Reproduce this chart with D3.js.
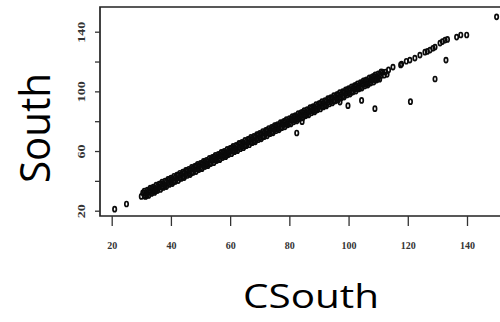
<!DOCTYPE html>
<html>
<head>
<meta charset="utf-8">
<script src="https://cdn.jsdelivr.net/npm/d3@7"></script>
<style>
  html, body { margin: 0; padding: 0; background: #fff; }
  svg { display: block; }
</style>
</head>
<body>
<svg id="chart" width="500" height="322"></svg>
<script>
// ---- data ----
const cSouth = [
  21, 25,
  30.0, 30.5, 31.0, 31.5, 32.0, 32.5, 33.0, 33.5, 34.0, 34.5,
  35.0, 35.5, 36.0, 36.5, 37.0, 37.5, 38.0, 38.5, 39.0, 39.5,
  40.0, 40.5, 41.0, 41.5, 42.0, 42.5, 43.0, 43.5, 44.0, 44.5,
  45.0, 45.5, 46.0, 46.5, 47.0, 47.5, 48.0, 48.5, 49.0, 49.5,
  50.0, 50.5, 51.0, 51.5, 52.0, 52.5, 53.0, 53.5, 54.0, 54.5,
  55.0, 55.5, 56.0, 56.5, 57.0, 57.5, 58.0, 58.5, 59.0, 59.5,
  60.0, 60.5, 61.0, 61.5, 62.0, 62.5, 63.0, 63.5, 64.0, 64.5,
  65.0, 65.5, 66.0, 66.5, 67.0, 67.5, 68.0, 68.5, 69.0, 69.5,
  70.0, 70.5, 71.0, 71.5, 72.0, 72.5, 73.0, 73.5, 74.0, 74.5,
  75.0, 75.5, 76.0, 76.5, 77.0, 77.5, 78.0, 78.5, 79.0, 79.5,
  80.0, 80.5, 81.0, 81.5, 82.0, 82.5, 83.0, 83.5, 84.0, 84.5,
  85.0, 85.5, 86.0, 86.5, 87.0, 87.5, 88.0, 88.5, 89.0, 89.5,
  90.0, 90.5, 91.0, 91.5, 92.0, 92.5, 93.0, 93.5, 94.0, 94.5,
  95.0, 95.5, 96.0, 96.5, 97.0, 97.5, 98.0, 98.5, 99.0, 99.5,
  100.0, 100.5, 101.0, 101.5, 102.0, 102.5, 103.0, 103.5, 104.0, 104.5,
  105.0, 105.5, 106.0, 106.5, 107.0, 107.5, 108.0, 108.5, 109.0, 109.5,
  110.0, 110.5, 111.0, 111.5, 112.0, 112.5, 113.0, 113.5,
  115.0, 117.6, 117.9, 119.5, 120.7, 122.4, 124.1, 125.8, 126.6, 127.5,
  128.5, 129.2, 130.9, 131.7, 132.6, 133.4, 136.5, 137.9, 139.9, 150.0,
  82.5, 84.3, 97.1, 99.8, 104.4, 108.9, 120.9, 129.2, 132.9
];
const south = [
  21, 24.5,
  29.6, 32.0, 29.8, 31.9, 30.4, 33.4, 32.6, 35.0, 32.8, 34.9,
  33.4, 36.4, 35.6, 38.0, 35.8, 37.9, 36.4, 39.4, 38.6, 41.0,
  38.8, 40.9, 39.4, 42.4, 41.6, 44.0, 41.8, 43.9, 42.4, 45.4,
  44.6, 47.0, 44.8, 46.9, 45.4, 48.4, 47.6, 50.0, 47.8, 49.9,
  48.4, 51.4, 50.6, 53.0, 50.8, 52.9, 51.4, 54.4, 53.6, 56.0,
  53.8, 55.9, 54.4, 57.4, 56.6, 59.0, 56.8, 58.9, 57.4, 60.4,
  59.6, 62.0, 59.8, 61.9, 60.4, 63.4, 62.6, 65.0, 62.8, 64.9,
  63.4, 66.4, 65.6, 68.0, 65.8, 67.9, 66.4, 69.4, 68.6, 71.0,
  68.8, 70.9, 69.4, 72.4, 71.6, 74.0, 71.8, 73.9, 72.4, 75.4,
  74.6, 77.0, 74.8, 76.9, 75.4, 78.4, 77.6, 80.0, 77.8, 79.9,
  78.4, 81.4, 80.6, 83.0, 80.8, 82.9, 81.4, 84.4, 83.6, 86.0,
  83.8, 85.9, 84.4, 87.4, 86.6, 89.0, 86.8, 88.9, 87.4, 90.4,
  89.6, 92.0, 89.8, 91.9, 90.4, 93.4, 92.6, 95.0, 92.8, 94.9,
  93.4, 96.4, 95.6, 98.0, 95.8, 97.9, 96.4, 99.4, 98.6, 101.0,
  98.8, 100.9, 99.4, 102.4, 101.6, 104.0, 101.8, 103.9, 102.4, 105.4,
  104.6, 107.0, 104.8, 106.9, 105.4, 108.4, 107.6, 110.0, 107.8, 109.9,
  108.4, 111.4, 110.6, 113.0, 110.8, 112.9, 111.4, 114.4,
  116.3, 117.7, 118.3, 120.2, 121.0, 122.3, 124.3, 126.3, 126.8, 127.7,
  128.9, 129.7, 132.4, 133.4, 134.4, 134.8, 136.4, 137.8, 137.8, 150.0,
  72.1, 79.7, 92.8, 90.4, 93.9, 88.4, 93.1, 108.3, 121.0
];
// upper edge of the dense band
const bandUpperC = [
  31, 32, 33, 34, 35, 36, 37, 38, 39, 40,
  41, 42, 43, 44, 45, 46, 47, 48, 49, 50,
  51, 52, 53, 54, 55, 56, 57, 58, 59, 60,
  61, 62, 63, 64, 65, 66, 67, 68, 69, 70,
  71, 72, 73, 74, 75, 76, 77, 78, 79, 80,
  81, 82, 83, 84, 85, 86, 87, 88, 89, 90,
  91, 92, 93, 94, 95, 96, 97, 98, 99, 100,
  101, 102, 103, 104, 105, 106, 107, 108, 109, 110, 111
];
const bandUpperS = [
  33.1, 33.8, 35.1, 35.8, 37.1, 37.8, 39.1, 39.8, 41.1, 41.8,
  43.1, 43.8, 45.1, 45.8, 47.1, 47.8, 49.1, 49.8, 51.1, 51.8,
  53.1, 53.8, 55.1, 55.8, 57.1, 57.8, 59.1, 59.8, 61.1, 61.8,
  63.1, 63.8, 65.1, 65.8, 67.1, 67.8, 69.1, 69.8, 71.1, 71.8,
  73.1, 73.8, 75.1, 75.8, 77.1, 77.8, 79.1, 79.8, 81.1, 81.8,
  83.1, 83.8, 85.1, 85.8, 87.1, 87.8, 89.1, 89.8, 91.1, 91.8,
  93.1, 93.8, 95.1, 95.8, 97.1, 97.8, 99.1, 99.8, 101.1, 101.8,
  103.1, 103.8, 105.1, 105.8, 107.1, 107.8, 109.1, 109.8, 111.1, 111.8, 113.1
];
// lower edge of the dense band
const bandLowerC = [
  31.5, 32.5, 33.5, 34.5, 35.5, 36.5, 37.5, 38.5, 39.5, 40.5,
  41.5, 42.5, 43.5, 44.5, 45.5, 46.5, 47.5, 48.5, 49.5, 50.5,
  51.5, 52.5, 53.5, 54.5, 55.5, 56.5, 57.5, 58.5, 59.5, 60.5,
  61.5, 62.5, 63.5, 64.5, 65.5, 66.5, 67.5, 68.5, 69.5, 70.5,
  71.5, 72.5, 73.5, 74.5, 75.5, 76.5, 77.5, 78.5, 79.5, 80.5,
  81.5, 82.5, 83.5, 84.5, 85.5, 86.5, 87.5, 88.5, 89.5, 90.5,
  91.5, 92.5, 93.5, 94.5, 95.5, 96.5, 97.5, 98.5, 99.5, 100.5,
  101.5, 102.5, 103.5, 104.5, 105.5, 106.5, 107.5, 108.5, 109.5, 110.5
];
const bandLowerS = [
  29.6, 30.2, 31.6, 32.2, 33.6, 34.2, 35.6, 36.2, 37.6, 38.2,
  39.6, 40.2, 41.6, 42.2, 43.6, 44.2, 45.6, 46.2, 47.6, 48.2,
  49.6, 50.2, 51.6, 52.2, 53.6, 54.2, 55.6, 56.2, 57.6, 58.2,
  59.6, 60.2, 61.6, 62.2, 63.6, 64.2, 65.6, 66.2, 67.6, 68.2,
  69.6, 70.2, 71.6, 72.2, 73.6, 74.2, 75.6, 76.2, 77.6, 78.2,
  79.6, 80.2, 81.6, 82.2, 83.6, 84.2, 85.6, 86.2, 87.6, 88.2,
  89.6, 90.2, 91.6, 92.2, 93.6, 94.2, 95.6, 96.2, 97.6, 98.2,
  99.6, 100.2, 101.6, 102.2, 103.6, 104.2, 105.6, 106.2, 107.6, 108.2
];
const xTicks = [20, 40, 60, 80, 100, 120, 140];
const yTicks = [20, 40, 60, 80, 100, 120, 140];
const yLabelled = [20, 60, 100, 140];
const xTitle = "CSouth";
const yTitle = "South";

// ---- drawing ----
const svg = d3.select("#chart");
const x = d3.scaleLinear().domain([20, 140]).range([111.7, 467]);
const y = d3.scaleLinear().domain([20, 140]).range([210.7, 31.7]);

const boxLeft = 100, boxTop = 7, boxBottom = 216;

// box (top, left, bottom)
svg.append("path")
  .attr("d", `M505,${boxTop}H${boxLeft}V${boxBottom}H505`)
  .attr("fill", "none").attr("stroke", "#222").attr("stroke-width", 1.7);

// points
const pts = [
  ...cSouth.map((v, i) => ({ cx: v, cy: south[i] })),
  ...bandUpperC.map((v, i) => ({ cx: v, cy: bandUpperS[i] })),
  ...bandLowerC.map((v, i) => ({ cx: v, cy: bandLowerS[i] }))
];
svg.append("g").selectAll("ellipse").data(pts).join("ellipse")
  .attr("cx", d => x(d.cx)).attr("cy", d => y(d.cy))
  .attr("rx", 1.7).attr("ry", 2.5)
  .attr("fill", "none").attr("stroke", "#0a0a0a").attr("stroke-width", 1.7);

// x axis
const gx = svg.append("g").attr("transform", `translate(0,${boxBottom})`)
  .call(d3.axisBottom(x).tickValues(xTicks).tickSize(10).tickFormat(d3.format("d")));
gx.select(".domain").remove();
gx.selectAll(".tick line").attr("stroke", "#333").attr("stroke-width", 1.3);
gx.selectAll(".tick text")
  .attr("y", 33).attr("dy", 0)
  .attr("font-family", "Liberation Serif").attr("font-size", 10)
  .attr("font-weight", "bold")
  .attr("fill", "#333");

// y axis
const gy = svg.append("g").attr("transform", `translate(${boxLeft},0)`)
  .call(d3.axisLeft(y).tickValues(yTicks).tickSize(5)
    .tickFormat(d => yLabelled.includes(d) ? d3.format("d")(d) : ""));
gy.select(".domain").remove();
gy.selectAll(".tick line").attr("stroke", "#333").attr("stroke-width", 1.3);
gy.selectAll(".tick text")
  .attr("x", 0).attr("y", 0).attr("dy", 0)
  .attr("text-anchor", "middle")
  .attr("transform", "translate(-15,0) rotate(-90) scale(1.4,1)")
  .attr("font-family", "Liberation Serif").attr("font-size", 10)
  .attr("font-weight", "bold")
  .attr("fill", "#333");

// axis titles
const xt = svg.append("text").text(xTitle)
  .attr("font-family", "Open Sans").attr("font-size", 32)
  .attr("text-anchor", "middle").attr("fill", "#000");
const xLen = xt.node().getComputedTextLength();
xt.attr("transform", `translate(311,308) scale(${136 / xLen},1)`);

const yt = svg.append("text").text(yTitle)
  .attr("font-family", "Open Sans").attr("font-size", 42)
  .attr("text-anchor", "middle").attr("fill", "#000");
const yLen = yt.node().getComputedTextLength();
yt.attr("transform", `translate(50,128) rotate(-90) scale(${110 / yLen},1)`);
</script>
</body>
</html>
